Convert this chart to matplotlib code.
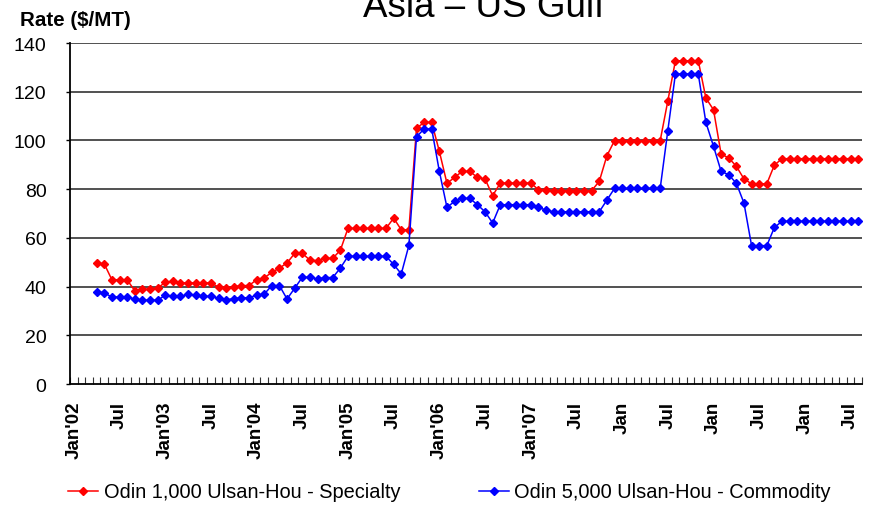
import numpy as np
import pandas as pd
import matplotlib
matplotlib.use('Agg')
import matplotlib.pyplot as plt
from matplotlib.ticker import FixedLocator

plt.rcParams['font.family'] = ['Liberation Sans', 'DejaVu Sans']

# monthly categories Jan'02 .. Aug'10, the series start in Apr'02
months = pd.period_range('2002-01', '2010-08', freq='M')
start_month = '2002-04'

tick_labels = ["Jan'02", "Jul", "Jan'03", "Jul", "Jan'04", "Jul", "Jan'05", "Jul",
               "Jan'06", "Jul", "Jan'07", "Jul", "Jan", "Jul", "Jan", "Jul", "Jan", "Jul"]

specialty = [49.7, 49.3, 42.8, 42.8, 42.8, 38.3, 38.9, 38.9, 39.4,
             41.7, 42.2, 41.5, 41.5, 41.5, 41.5, 41.5, 39.8, 39.4, 39.9, 40.4, 40.4,
             42.8, 43.6, 45.8, 47.6, 49.7, 53.6, 53.6, 50.9, 50.6, 51.6, 51.6, 54.9,
             63.9, 63.9, 63.9, 63.9, 63.9, 63.9, 68.1, 63.3, 63.3, 105.0, 107.4, 107.4,
             95.5, 82.4, 84.8, 87.3, 87.3, 84.8, 84.2, 77.3, 82.5, 82.5, 82.5, 82.5,
             82.5, 79.8, 79.8, 79.4, 79.4, 79.4, 79.4, 79.4, 79.4, 83.2, 93.7, 99.9,
             99.9, 99.9, 99.9, 99.9, 99.9, 99.9, 116.2, 132.7, 132.7, 132.7, 132.7, 117.4,
             112.6, 94.4, 92.8, 89.4, 84.2, 82.2, 82.2, 82.2, 89.9, 92.5, 92.5, 92.5,
             92.5, 92.5, 92.5, 92.5, 92.5, 92.5, 92.5, 92.5]

commodity = [37.9, 37.4, 35.7, 35.7, 35.7, 34.9, 34.4, 34.4, 34.4,
             36.4, 36.0, 36.0, 36.8, 36.4, 36.0, 36.0, 35.2, 34.5, 35.1, 35.4, 35.4,
             36.5, 36.9, 40.4, 40.4, 34.9, 39.3, 43.8, 43.8, 43.1, 43.7, 43.7, 47.6,
             52.4, 52.4, 52.4, 52.4, 52.4, 52.4, 49.1, 45.2, 56.9, 101.5, 104.7, 104.7,
             87.3, 72.5, 75.0, 76.2, 76.2, 73.6, 70.7, 66.1, 73.6, 73.6, 73.6, 73.6,
             73.6, 72.5, 71.4, 70.7, 70.7, 70.7, 70.7, 70.7, 70.7, 70.7, 75.5, 80.3,
             80.3, 80.3, 80.3, 80.3, 80.3, 80.3, 104.0, 127.3, 127.3, 127.3, 127.3, 107.4,
             97.6, 87.3, 85.9, 82.4, 74.3, 56.8, 56.8, 56.8, 64.3, 66.8, 66.8, 66.8,
             66.8, 66.8, 66.8, 66.8, 66.8, 66.8, 66.8, 66.8]

series_labels = ['Odin 1,000 Ulsan-Hou - Specialty', 'Odin 5,000 Ulsan-Hou - Commodity']

W, H = 869, 506
fig = plt.figure(figsize=(W / 100, H / 100), dpi=100)
ax = fig.add_axes([70 / W, 1 - 385 / H, (862 - 70) / W, (385 - 44) / H])

first = list(months.astype(str)).index(start_month)
xs = np.arange(first, first + len(specialty))

ax.plot(xs, specialty, color='#ff0000', lw=1.1, marker='D', ms=3.8,
        label=series_labels[0])
ax.plot(xs, commodity, color='#0000ff', lw=1.1, marker='D', ms=3.8,
        label=series_labels[1])

ax.set_xlim(-0.5, len(months) - 0.5)
ax.set_ylim(0, 140)
ax.set_yticks(np.arange(0, 141, 20))
for v in range(20, 141, 20):
    ax.axhline(v, color='#222222', lw=1.1, zorder=0)

ax.set_xticks(np.arange(0, len(months), 6))
ax.set_xticklabels(tick_labels, rotation=90, fontweight='bold', fontsize=13.5, va='top')
ax.xaxis.set_minor_locator(FixedLocator(np.arange(-0.5, len(months), 1)))
ax.tick_params(axis='x', which='major', length=0, pad=12)
ax.tick_params(axis='x', which='minor', direction='in', length=5, width=0.8, color='#333333')
ax.tick_params(axis='y', length=3, width=1, labelsize=14, pad=14)

for s in ['top', 'right']:
    ax.spines[s].set_visible(False)
for s in ['left', 'bottom']:
    ax.spines[s].set_linewidth(1.3)
    ax.spines[s].set_color('black')

# title sits partly above the top edge, as in the source image
fig.text(484 / W, 1 - 17 / H, 'Asia – US Gulf', ha='center', va='baseline', fontsize=26.5)
fig.text(20 / W, 1 - 26 / H, 'Rate ($/MT)', ha='left', va='baseline',
         fontsize=14.8, fontweight='bold')

fig.legend(loc='center left', bbox_to_anchor=(68 / W, 13 / H), ncol=2, frameon=False,
           fontsize=14.4, handlelength=1.5, handletextpad=0.3, columnspacing=3.9,
           borderpad=0, borderaxespad=0)

fig.savefig('out.png', dpi=100)
